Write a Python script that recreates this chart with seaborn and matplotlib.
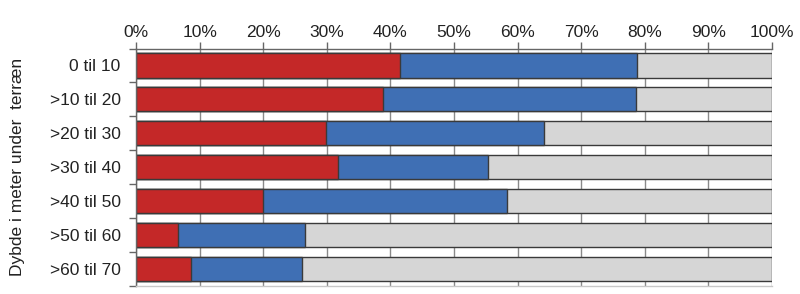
import matplotlib
matplotlib.use("Agg")
import matplotlib.pyplot as plt
import seaborn as sns
import pandas as pd
import numpy as np

categories = ["0 til 10", ">10 til 20", ">20 til 30", ">30 til 40", ">40 til 50", ">50 til 60", ">60 til 70"]
red_share = [41.5, 38.8, 29.8, 31.7, 20.0, 6.6, 8.7]
blue_share = [37.3, 39.8, 34.3, 23.7, 38.4, 20.0, 17.4]
gray_share = [100 - r - b for r, b in zip(red_share, blue_share)]
xticks = list(range(0, 101, 10))
ylabel = "Dybde i meter under  terræn"

sns.set_theme(style="white")
plt.rcParams['font.family'] = ['Liberation Sans', 'DejaVu Sans']

df = pd.DataFrame({"cat": categories, "red": red_share, "blue": blue_share, "gray": gray_share})
df["cum_blue"] = df["red"] + df["blue"]
df["cum_gray"] = df["cum_blue"] + df["gray"]

fig = plt.figure(figsize=(8, 2.94), dpi=100)
ax = fig.add_axes([0.17, 0.027, 0.795, 0.808])

edge = "#3a3a3a"
fs = 12.5
sns.barplot(data=df, y="cat", x="cum_gray", color="#d6d6d6", edgecolor=edge, linewidth=1, width=0.71, ax=ax, orient="h", saturation=1)
sns.barplot(data=df, y="cat", x="cum_blue", color="#3f6fb4", edgecolor=edge, linewidth=1, width=0.71, ax=ax, orient="h", saturation=1)
sns.barplot(data=df, y="cat", x="red", color="#c42828", edgecolor=edge, linewidth=1, width=0.71, ax=ax, orient="h", saturation=1)

ax.set_xlim(0, 100)
ax.set_ylim(len(categories) - 0.5, -0.5)
ax.xaxis.tick_top()
ax.set_xticks(xticks)
ax.set_xticklabels([f"{t}%" for t in xticks], fontsize=fs, color="#222222")
ax.set_yticks(np.arange(len(categories)))
ax.set_yticklabels(categories, fontsize=fs, color="#222222")
ax.set_yticks(np.arange(-0.5, len(categories)), minor=True)
ax.tick_params(axis="y", which="major", length=0, pad=11)
ax.tick_params(axis="y", which="minor", length=5, width=1, color="#666666", left=True)
ax.tick_params(axis="x", which="major", length=5, width=1, color="#666666", top=True, pad=1)
ax.set_xlabel("")
ax.set_ylabel(ylabel, fontsize=fs, color="#222222", labelpad=18)

ax.grid(axis="x", color="#8a8a8a", linewidth=1)
ax.set_axisbelow(True)
ax.spines["right"].set_visible(False)
ax.spines["bottom"].set_visible(True)
ax.spines["bottom"].set_color("#c8c8c8")
ax.spines["bottom"].set_linewidth(1)
for side in ["top", "left"]:
    ax.spines[side].set_visible(True)
    ax.spines[side].set_color("#666666")
    ax.spines[side].set_linewidth(1)

fig.savefig("out.png", dpi=100)
